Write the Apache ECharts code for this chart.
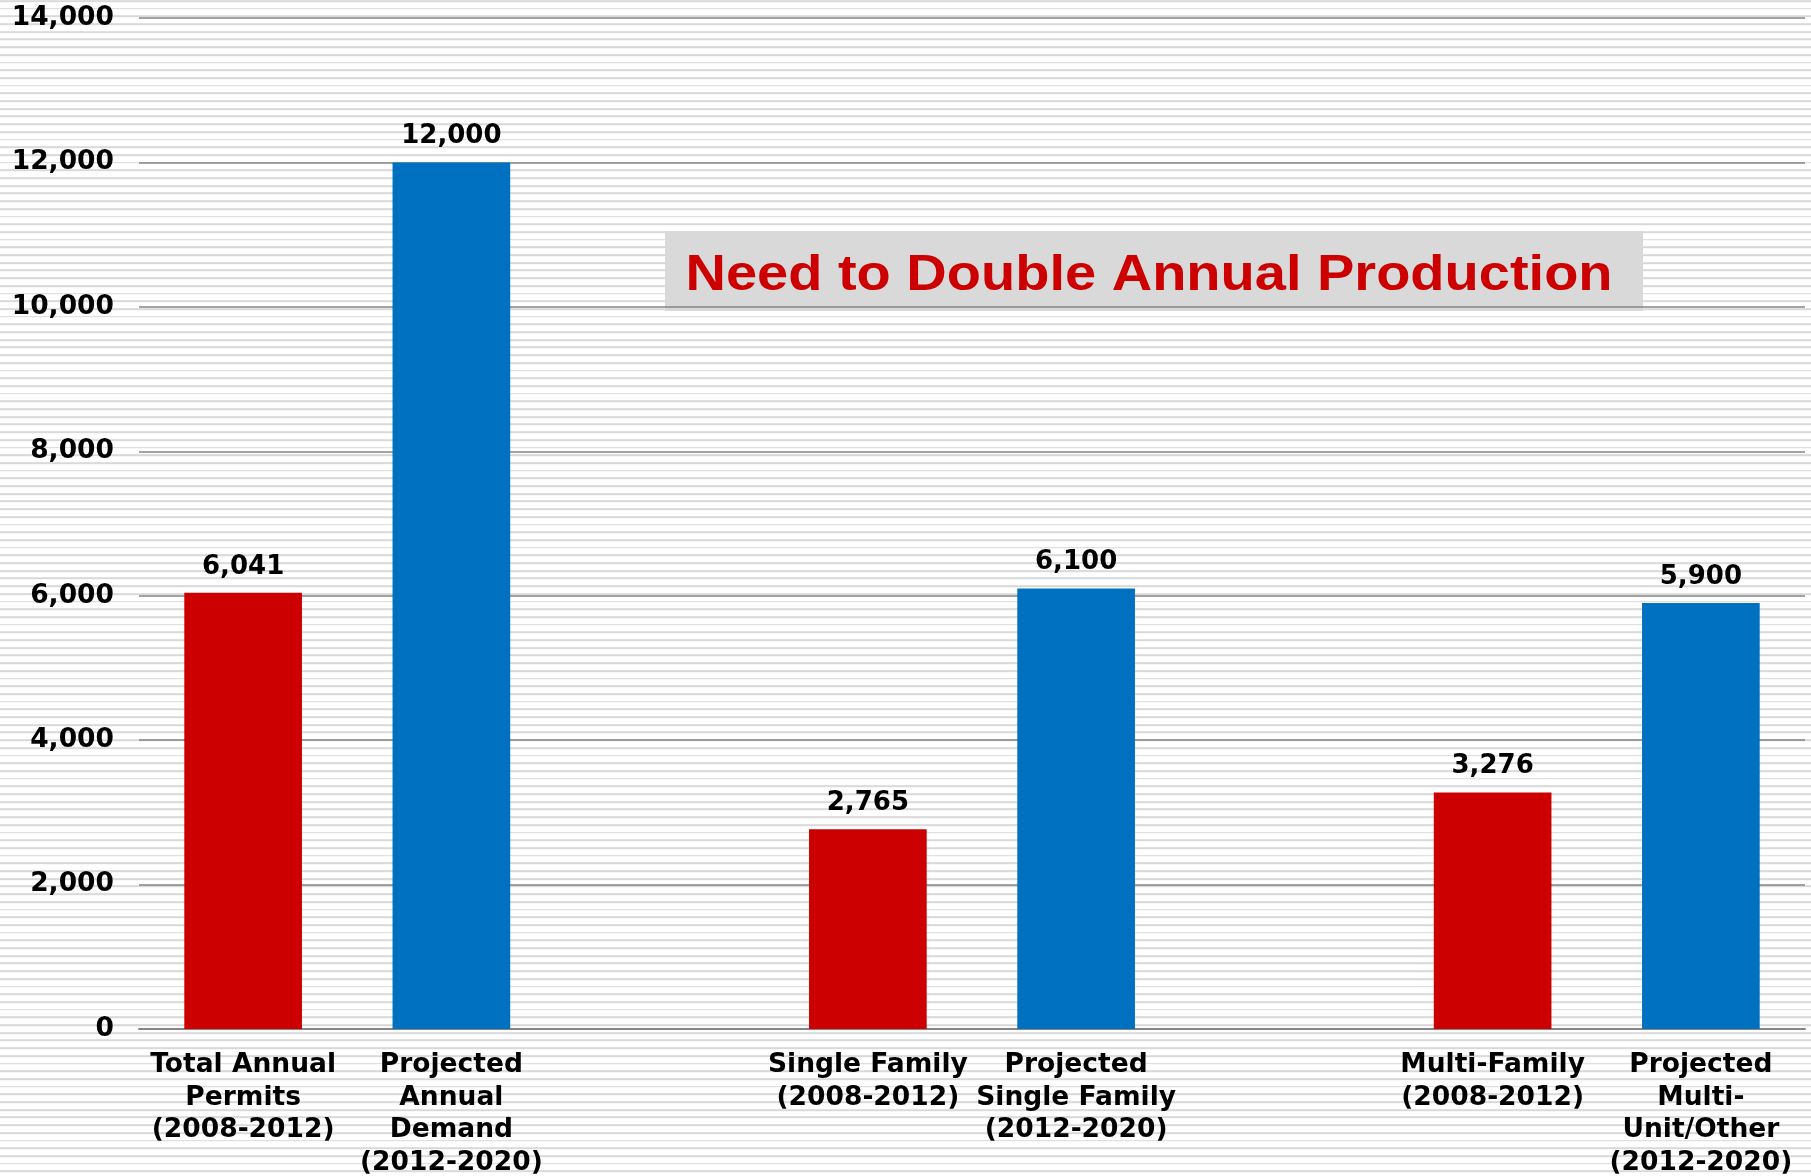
<!DOCTYPE html>
<html>
<head>
<meta charset="utf-8">
<script src="https://cdn.jsdelivr.net/npm/echarts@6/dist/echarts.min.js"></script>
<style>
  html, body { margin: 0; padding: 0; }
  #chart {
    width: 1811px; height: 1176px;
    background: repeating-linear-gradient(to bottom, #d9d9d9 0px, #d9d9d9 1.8px, #ffffff 1.8px, #ffffff 7.7px);
    background-position: 0 0.2px;
  }
</style>
</head>
<body>
<div id="chart"></div>
<script>
const categories = [
  'Total Annual\nPermits\n(2008-2012)',
  'Projected\nAnnual\nDemand\n(2012-2020)',
  '',
  'Single Family\n(2008-2012)',
  'Projected\nSingle Family\n(2012-2020)',
  '',
  'Multi-Family\n(2008-2012)',
  'Projected\nMulti-\nUnit/Other\n(2012-2020)'
];
const historicalValues = [6041, null, null, 2765, null, null, 3276, null];
const projectedValues  = [null, 12000, null, null, 6100, null, null, 5900];
const yTicks = { min: 0, max: 14000, interval: 2000 };
const annotation = 'Need to Double Annual Production';

const FONT = 'DejaVu Sans';
const chart = echarts.init(document.getElementById('chart'), null, { renderer: 'canvas' });
const fmt = v => Number(v).toLocaleString('en-US');

const labelStyle = {
  show: true,
  position: 'top',
  distance: 13,
  color: '#000',
  fontFamily: FONT,
  fontWeight: 'bold',
  fontSize: 26,
  formatter: p => fmt(p.value)
};

chart.setOption({
  animation: false,
  backgroundColor: 'transparent',
  grid: { left: 139, right: 6, top: 18, bottom: 147, containLabel: false, outerBoundsMode: 'none' },
  xAxis: {
    type: 'category',
    data: categories,
    axisTick: { show: false },
    axisLine: { show: true, lineStyle: { color: '#858585', width: 2 } },
    axisLabel: {
      interval: 0,
      margin: 20,
      color: '#000',
      fontFamily: FONT,
      fontWeight: 'bold',
      fontSize: 26.5,
      lineHeight: 32.5,
      align: 'center'
    },
    splitLine: { show: false }
  },
  yAxis: {
    type: 'value',
    min: yTicks.min,
    max: yTicks.max,
    interval: yTicks.interval,
    axisLine: { show: false },
    axisTick: { show: false },
    axisLabel: {
      margin: 25,
      color: '#000',
      fontFamily: FONT,
      fontWeight: 'bold',
      fontSize: 26.5,
      padding: [6, 0, 0, 0],
      formatter: v => fmt(v)
    },
    splitLine: { show: true, lineStyle: { color: '#858585', width: 1.6 } }
  },
  series: [
    {
      name: 'Historical',
      type: 'bar',
      stack: 'all',
      barWidth: '56.5%',
      data: historicalValues,
      itemStyle: { color: '#CC0000' },
      label: labelStyle
    },
    {
      name: 'Projected',
      type: 'bar',
      stack: 'all',
      barWidth: '56.5%',
      data: projectedValues,
      itemStyle: { color: '#0070C0' },
      label: labelStyle
    }
  ],
  graphic: [
    {
      type: 'group',
      left: 665,
      top: 231,
      children: [
        { type: 'rect', shape: { x: 0, y: 0, width: 978, height: 80 }, style: { fill: '#d9d9d9' } },
        {
          type: 'text',
          x: 484, y: 45,
          scaleX: 1.12,
          style: {
            text: annotation,
            fill: '#CC0000',
            font: 'bold 50px "Liberation Sans", Arial, sans-serif',
            align: 'center',
            verticalAlign: 'middle'
          }
        }
      ]
    }
  ]
});
</script>
</body>
</html>
